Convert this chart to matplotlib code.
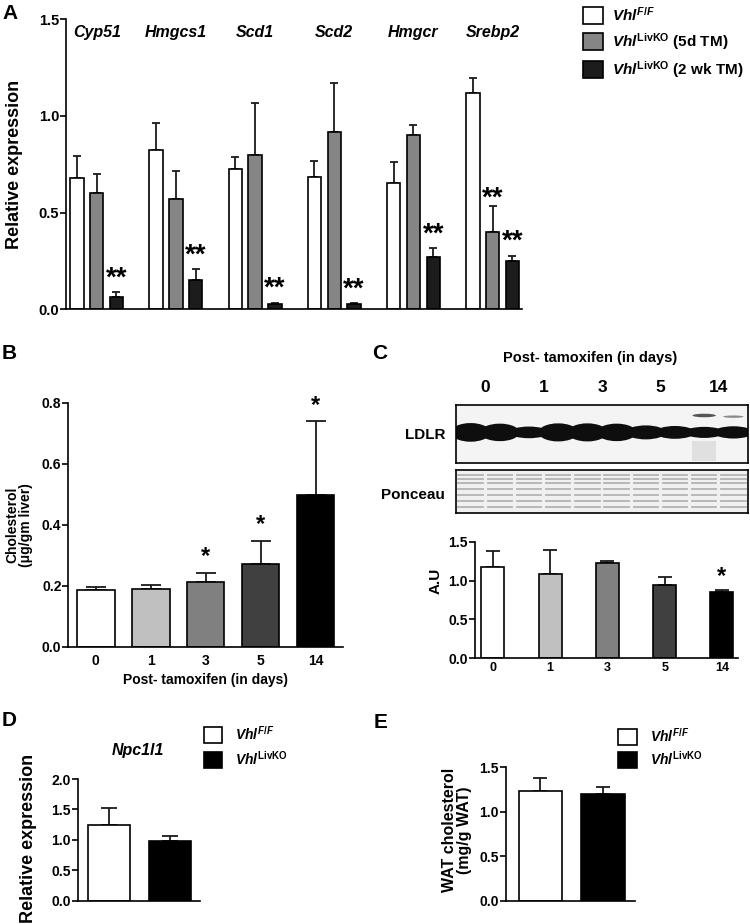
import matplotlib
matplotlib.use('Agg')
import matplotlib.pyplot as plt
from matplotlib.patches import Patch, Ellipse, Rectangle
from matplotlib.ticker import FormatStrFormatter
import numpy as np

plt.rcParams['font.family'] = ['Liberation Sans', 'DejaVu Sans']
plt.rcParams['font.weight'] = 'bold'
plt.rcParams['axes.labelweight'] = 'bold'
plt.rcParams['mathtext.fontset'] = 'custom'
plt.rcParams['mathtext.rm'] = 'Liberation Sans:bold'
plt.rcParams['mathtext.it'] = 'Liberation Sans:bold:italic'
plt.rcParams['mathtext.bf'] = 'Liberation Sans:bold'
plt.rcParams['axes.linewidth'] = 1.2

# ---- data ----
genes = ['Cyp51', 'Hmgcs1', 'Scd1', 'Scd2', 'Hmgcr', 'Srebp2']
a_ff = [0.680, 0.826, 0.724, 0.684, 0.655, 1.121]
a_ff_err = [0.115, 0.138, 0.066, 0.085, 0.105, 0.077]
a_5d = [0.600, 0.568, 0.798, 0.917, 0.903, 0.398]
a_5d_err = [0.100, 0.145, 0.271, 0.255, 0.049, 0.138]
a_2wk = [0.065, 0.153, 0.027, 0.025, 0.272, 0.250]
a_2wk_err = [0.023, 0.054, 0.007, 0.006, 0.044, 0.027]
a_legend = [r'$\mathit{Vhl}^{\mathit{F/F}}$',
            r'$\mathit{Vhl}^{\mathrm{LivKO}}$ (5d TM)',
            r'$\mathit{Vhl}^{\mathrm{LivKO}}$ (2 wk TM)']

days = ['0', '1', '3', '5', '14']
b_chol = [0.186, 0.189, 0.211, 0.271, 0.496]
b_chol_err = [0.011, 0.014, 0.032, 0.076, 0.243]
b_stars = ['', '', '*', '*', '*']

c_au = [1.177, 1.083, 1.229, 0.942, 0.848]
c_au_err = [0.202, 0.309, 0.026, 0.105, 0.030]
c_stars = ['', '', '', '', '*']

d_npc = [1.239, 0.981]
d_npc_err = [0.284, 0.082]
e_wat = [1.237, 1.200]
e_wat_err = [0.140, 0.076]
ko_legend = [r'$\mathit{Vhl}^{\mathit{F/F}}$', r'$\mathit{Vhl}^{\mathrm{LivKO}}$']

# western blot appearance (band thickness per lane)
ldlr_band = [0.32, 0.30, 0.20, 0.31, 0.31, 0.30, 0.24, 0.22, 0.19, 0.21]
ponceau_rows = [0.88, 0.78, 0.70, 0.56, 0.42, 0.28, 0.14]

day_colors = ['white', '#c0c0c0', '#808080', '#404040', '#000000']
a_colors = ['white', '#858585', '#1c1c1c']


def style(ax, ymax, step):
    for s in ['top', 'right']:
        ax.spines[s].set_visible(False)
    ax.set_ylim(0, ymax)
    ax.set_yticks(np.arange(0, ymax + 1e-6, step))
    ax.yaxis.set_major_formatter(FormatStrFormatter('%.1f'))
    ax.tick_params(axis='y', length=4, width=1.2, labelsize=10, pad=1)
    ax.tick_params(axis='x', length=0)


def draw_bars(ax, x, vals, errs, colors, width, cap):
    ax.bar(x, vals, width, color=colors, edgecolor='black', linewidth=1.2, zorder=2)
    ax.errorbar(x, vals, yerr=[np.zeros(len(vals)), errs], fmt='none',
                ecolor='#1a1a1a', elinewidth=1.3, capsize=cap, capthick=1.3, zorder=1)


def star(ax, x, y, s, dy, size):
    ax.annotate(s, (x, y), xytext=(0, dy), textcoords='offset points',
                ha='center', va='baseline', fontsize=size)


fig = plt.figure(figsize=(7.5, 9.24), dpi=100)

# ---- A ----
axA = fig.add_axes([0.088, 0.6653, 0.608, 0.3138])
style(axA, 1.5, 0.5)
gx = np.arange(len(genes)) * 4
for k, (v, e) in enumerate([(a_ff, a_ff_err), (a_5d, a_5d_err), (a_2wk, a_2wk_err)]):
    draw_bars(axA, gx + k - 1, v, e, a_colors[k], 0.68, 2.8)
axA.set_xlim(-1.55, 21.48)
axA.set_xticks([])
axA.tick_params(axis='y', labelsize=10.5)
for i, g in enumerate(genes):
    axA.text(gx[i], 1.43, g, ha='center', va='center', fontsize=11.5,
             fontweight='bold', fontstyle='italic')
for i in range(len(genes)):
    star(axA, gx[i] + 1, a_2wk[i] + a_2wk_err[i], '**', 5, 20)
star(axA, gx[5], a_5d[5] + a_5d_err[5], '**', 0, 20)
axA.set_ylabel('Relative expression', fontsize=13)
axA.yaxis.set_label_coords(-0.094, 0.5)
hA = [Patch(facecolor=c, edgecolor='black', linewidth=1.2) for c in a_colors]
fig.legend(hA, a_legend, loc='upper left', bbox_to_anchor=(583 / 750, 1 - 6 / 924),
           frameon=False, prop={'weight': 'bold', 'size': 11}, handlelength=1.31,
           handleheight=1.31, labelspacing=0.45, handletextpad=0.6,
           borderpad=0, borderaxespad=0)

# ---- B ----
axB = fig.add_axes([0.0911, 0.3001, 0.3666, 0.2641])
style(axB, 0.8, 0.2)
xb = np.arange(len(days))
draw_bars(axB, xb, b_chol, b_chol_err, day_colors, 0.68, 7.5)
axB.set_xlim(-0.5, 4.5)
axB.set_xticks(xb)
axB.set_xticklabels(days)
axB.tick_params(axis='x', labelsize=10, pad=5)
for i, s in enumerate(b_stars):
    if s:
        star(axB, i, b_chol[i] + b_chol_err[i], s, 7, 17)
axB.set_xlabel('Post- tamoxifen (in days)', fontsize=10, labelpad=4)
axB.set_ylabel('Cholesterol\n(\u03bcg/gm liver)', fontsize=10, linespacing=1.0)
axB.yaxis.set_label_coords(-0.128, 0.5)

# ---- C: blot ----
axL = fig.add_axes([0.608, 0.4986, 0.3893, 0.0631])
axL.set_xlim(0, 10)
axL.set_ylim(0, 1)
axL.set_facecolor('#f4f4f4')
axL.add_patch(Rectangle((8.1, 0.04), 0.8, 0.34, color='#e0e0e0', lw=0, zorder=0))
for i, h in enumerate(ldlr_band):
    axL.add_patch(Ellipse((i + 0.5, 0.53), 1.35, h, color='#0e0e0e', lw=0))
axL.add_patch(Ellipse((8.5, 0.82), 0.8, 0.06, color='#555555', lw=0))
axL.add_patch(Ellipse((9.5, 0.80), 0.7, 0.04, color='#8a8a8a', lw=0))
axL.set_xticks([])
axL.set_yticks([])

axP = fig.add_axes([0.608, 0.4451, 0.3893, 0.0462])
axP.set_xlim(0, 10)
axP.set_ylim(0, 1)
axP.set_facecolor('#f0f0f0')
for i in range(10):
    for y in ponceau_rows:
        axP.plot([i + 0.08, i + 0.92], [y, y], color='#b4b4b4', lw=1.3)
axP.set_xticks([])
axP.set_yticks([])

fig.text(590 / 750, 1 - 358 / 924, 'Post- tamoxifen (in days)', ha='center',
         va='center', fontsize=10.5)
for i, d in enumerate(days):
    fig.text((456 + 29.2 * (2 * i + 1)) / 750, 1 - 388 / 924, d, ha='center',
             va='center', fontsize=12.5)
fig.text(445 / 750, 1 - 435 / 924, 'LDLR', ha='right', va='center', fontsize=11)
fig.text(445 / 750, 1 - 495 / 924, 'Ponceau', ha='right', va='center', fontsize=11)

# ---- C: bars ----
axC = fig.add_axes([0.6333, 0.2876, 0.3507, 0.1262])
style(axC, 1.5, 0.5)
draw_bars(axC, xb, c_au, c_au_err, day_colors, 0.4, 5)
axC.set_xlim(-0.31, 4.28)
axC.set_xticks(xb)
axC.set_xticklabels(days)
axC.tick_params(axis='x', labelsize=9, pad=3)
for i, s in enumerate(c_stars):
    if s:
        star(axC, i, c_au[i] + c_au_err[i], s, 5, 17)
axC.set_ylabel('A.U', fontsize=11)
axC.yaxis.set_label_coords(-0.122, 0.66)

# ---- D ----
axD = fig.add_axes([0.104, 0.0252, 0.1627, 0.1317])
style(axD, 2.0, 0.5)
draw_bars(axD, [0, 1], d_npc, d_npc_err, ['white', 'black'], 0.69, 5.8)
axD.set_xlim(-0.51, 1.49)
axD.set_xticks([])
axD.text(0.49, 1.238, 'Npc1l1', transform=axD.transAxes, ha='center', va='center',
         fontsize=11.5, fontstyle='italic')
axD.set_ylabel('Relative expression', fontsize=13)
axD.yaxis.set_label_coords(-0.336, 0.515)
hK = [Patch(facecolor=c, edgecolor='black', linewidth=1.2) for c in ['white', 'black']]
fig.legend(hK, ko_legend, loc='upper left', bbox_to_anchor=(204 / 750, 1 - 725 / 924),
           frameon=False, prop={'weight': 'bold', 'size': 10}, handlelength=1.3,
           handleheight=1.37, labelspacing=0.45, handletextpad=0.9,
           borderpad=0, borderaxespad=0)

# ---- E ----
axE = fig.add_axes([0.6747, 0.0252, 0.172, 0.1444])
style(axE, 1.5, 0.5)
draw_bars(axE, [0, 1], e_wat, e_wat_err, ['white', 'black'], 0.69, 4.8)
axE.set_xlim(-0.55, 1.51)
axE.set_xticks([])
axE.set_ylabel('WAT cholesterol\n(mg/g WAT)', fontsize=11.5, linespacing=1.0)
axE.yaxis.set_label_coords(-0.264, 0.53)
fig.legend(hK, ko_legend, loc='upper left', bbox_to_anchor=(618 / 750, 1 - 726.5 / 924),
           frameon=False, prop={'weight': 'bold', 'size': 10}, handlelength=1.37,
           handleheight=1.37, labelspacing=0.35, handletextpad=0.9,
           borderpad=0, borderaxespad=0)

# panel letters
for lab, x, y in [('A', 2, 4), ('B', 2, 344), ('C', 372, 344), ('D', 2, 711), ('E', 374, 713)]:
    fig.text(x / 750, 1 - y / 924, lab, ha='left', va='top', fontsize=15)

fig.savefig('out.png', dpi=100)
